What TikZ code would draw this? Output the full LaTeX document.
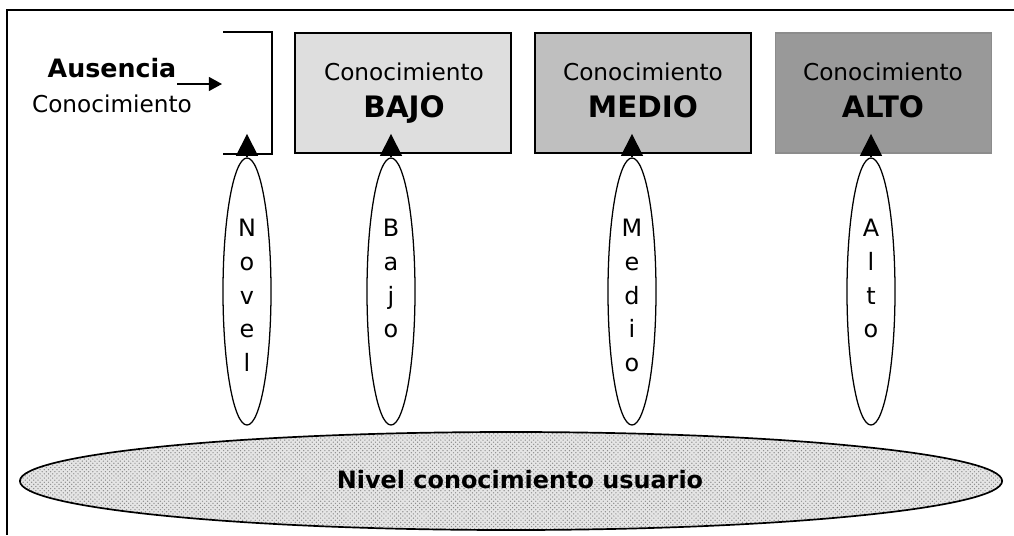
\documentclass[tikz,border=0pt]{standalone}
\usepackage{fontspec}
\setmainfont{DejaVu Sans}
\usetikzlibrary{shapes.geometric,arrows.meta,patterns}

\tikzset{
  caja/.style={line width=1.3pt, minimum width=5.4cm, minimum height=3cm, inner sep=0pt},
  elipse/.style={ellipse, draw, line width=0.9pt, fill=white, minimum width=1.2cm, minimum height=6.675cm, inner sep=0pt},
  letras/.style={anchor=north, inner sep=0pt, align=center, font=\fontsize{17}{24}\selectfont},
  texto/.style={anchor=base, inner sep=0pt, font=\fontsize{16.5}{18}\selectfont},
  nivel/.style={anchor=base, inner sep=0pt, font=\fontsize{21}{23}\selectfont\bfseries},
  flecha/.style={-{Triangle[length=0.55cm,width=0.55cm]}, line width=1pt, shorten >=-0.5cm},
}

\begin{document}
\begin{tikzpicture}[x=0.025cm,y=-0.025cm]
\useasboundingbox (0,0) rectangle (1014,535);

% marco
\draw[line width=1.4pt] (1014,10) -- (7,10) -- (7,535);

% cajas
\node[caja, minimum width=1.175cm] (cajaN) at (247.5,93) {};
\node[caja, draw=black, fill=black!13] (cajaB) at (403,93) {};
\node[caja, draw=black, fill=black!25] (cajaM) at (643,93) {};
\node[caja, draw=black!45, fill=black!40] (cajaA) at (883.5,93) {};

\draw[line width=1pt] (cajaN.north west) -- (cajaN.north east) -- (cajaN.south east) -- (cajaN.south west);

\node[texto, font=\fontsize{18}{20}\selectfont\bfseries] (ausencia) at (112,77) {Ausencia};
\node[texto] (conocN) at (112,112) {Conocimiento};
\coordinate (flechaIni) at (177,84);
\coordinate (flechaFin) at (222,84);
\draw[-{Triangle[length=0.33cm,width=0.35cm]}, line width=1pt] (flechaIni) -- (flechaFin);

\node[texto] (conocB) at (404,80) {Conocimiento};
\node[texto] (conocM) at (643,80) {Conocimiento};
\node[texto] (conocA) at (883,80) {Conocimiento};
\node[nivel] (nivB) at (404,117) {BAJO};
\node[nivel] (nivM) at (643,117) {MEDIO};
\node[nivel] (nivA) at (883,117) {ALTO};

% elipses
\node[elipse] (elipN) at (247,291.5) {};
\node[elipse] (elipB) at (391,291.5) {};
\node[elipse] (elipM) at (632,291.5) {};
\node[elipse] (elipA) at (871,291.5) {};

\node[letras] at (247,219) {N\\o\\v\\e\\l};
\node[letras] at (391,219) {B\\a\\j\\o};
\node[letras] at (632,219) {M\\e\\d\\i\\o};
\node[letras] at (871,219) {A\\l\\t\\o};

\draw[flecha] (elipN.north) -- (elipN.north |- cajaN.south);
\draw[flecha] (elipB.north) -- (elipB.north |- cajaB.south);
\draw[flecha] (elipM.north) -- (elipM.north |- cajaM.south);
\draw[flecha] (elipA.north) -- (elipA.north |- cajaA.south);

% nivel del usuario
\node[ellipse, draw, line width=1.2pt, minimum width=24.55cm, minimum height=2.45cm, inner sep=0pt,
      preaction={fill=black!10}, pattern=crosshatch dots, pattern color=black!45] (usuario) at (511,481) {};
\node[anchor=base, inner sep=0pt, font=\fontsize{17}{19}\selectfont\bfseries] at (520,488) {Nivel conocimiento usuario};
\end{tikzpicture}
\end{document}
